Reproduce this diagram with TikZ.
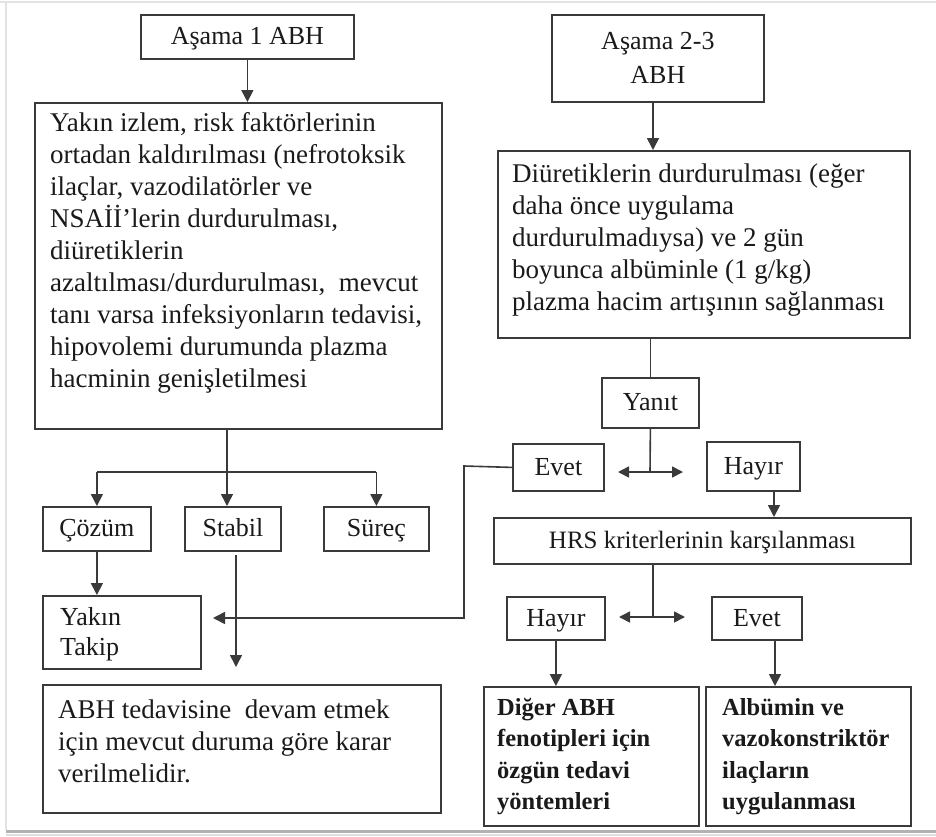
\documentclass[tikz,border=0pt]{standalone}
\usepackage{fontspec}
\setmainfont{Liberation Serif}
\usetikzlibrary{arrows.meta}
\definecolor{linec}{HTML}{3A3A3A}
\definecolor{txtc}{HTML}{1A1A1A}
\begin{document}
\begin{tikzpicture}[x=1pt,y=-1pt,
  box/.style={draw=linec, line width=1.8pt, inner sep=0pt, anchor=north west, text=txtc, font=\fontsize{26}{30}\selectfont},
  lbl/.style={box, text height=20pt, text depth=4pt},
  txt/.style={anchor=north west, inner sep=0pt, align=left, text=txtc, font=\fontsize{27}{32}\selectfont},
  btxt/.style={txt, font=\fontsize{24.5}{31.5}\selectfont\bfseries},
  conn/.style={draw=linec, line width=1.6pt},
  arr/.style={conn, -{Triangle[width=12pt,length=12pt]}},
  darr/.style={conn, {Triangle[width=11pt,length=11pt]}-{Triangle[width=11pt,length=11pt]}},
]
\path[use as bounding box, fill=white] (0,0) rectangle (936,836);
% frame
\draw[gray!22, line width=1.5pt] (0,2) -- (936,2);
\draw[gray!22, line width=1.5pt] (6,2) -- (6,830);
\draw[gray!60, line width=3pt] (6,831) -- (936,831);
\draw[gray!25, line width=2pt] (6,834.5) -- (936,834.5);

% boxes
\node[lbl, minimum width=213pt, minimum height=44pt] (a1) at (140,14) {Aşama 1 ABH};
\node[box, minimum width=212pt, minimum height=87pt, align=center, font=\fontsize{26}{34}\selectfont] (a23) at (551,14) {Aşama 2-3\\ABH};
\node[box, minimum width=407pt, minimum height=326pt] (L) at (34,102) {};
\node[txt] (Lt) at (50,108.6) {\strut Yakın izlem, risk faktörlerinin\\ortadan kaldırılması (nefrotoksik\\ilaçlar, vazodilatörler ve\\NSAİİ'lerin durdurulması,\\diüretiklerin\\azaltılması/durdurulması,\ \ mevcut\\tanı varsa infeksiyonların tedavisi,\\hipovolemi durumunda plazma\\hacminin genişletilmesi};
\node[box, minimum width=412pt, minimum height=187pt] (R) at (497,150) {};
\node[txt] (Rt) at (512,159.6) {\strut Diüretiklerin durdurulması (eğer\\daha önce uygulama\\durdurulmadıysa) ve 2 gün\\boyunca albüminle (1 g/kg)\\plazma hacim artışının sağlanması};
\node[lbl, minimum width=97pt, minimum height=50pt] (yanit) at (601,377) {Yanıt};
\node[lbl, minimum width=91pt, minimum height=47pt] (evet1) at (512,443) {Evet};
\node[lbl, minimum width=93pt, minimum height=49pt] (hayir1) at (706,441) {Hayır};
\node[lbl, minimum width=108pt, minimum height=44pt] (cozum) at (42,506) {Çözüm};
\node[lbl, minimum width=96pt, minimum height=44pt] (stabil) at (184,506) {Stabil};
\node[lbl, minimum width=105pt, minimum height=44pt] (surec) at (323,506) {Süreç};
\node[lbl, minimum width=417pt, minimum height=46pt, font=\fontsize{25}{30}\selectfont] (hrs) at (493,517) {HRS kriterlerinin karşılanması};
\node[box, minimum width=158pt, minimum height=73pt] (yakin) at (42,595) {};
\node[txt, font=\fontsize{26}{30}\selectfont] (yakint) at (60,604) {\strut Yakın\\Takip};
\node[lbl, minimum width=98pt, minimum height=43pt] (hayir2) at (506,596) {Hayır};
\node[lbl, minimum width=90pt, minimum height=43pt] (evet2) at (711,596) {Evet};
\node[box, minimum width=398pt, minimum height=128pt] (abh) at (42,684) {};
\node[txt] (abht) at (58,695.6) {\strut ABH tedavisine\ \ devam etmek\\için mevcut duruma göre karar\\verilmelidir.};
\node[box, minimum width=215pt, minimum height=139pt] (diger) at (483,686) {};
\node[btxt] (digert) at (497,692.95) {\strut Diğer ABH\\fenotipleri için\\özgün tedavi\\yöntemleri};
\node[box, minimum width=205pt, minimum height=139pt] (alb) at (705,686) {};
\node[btxt] (albt) at (722,692.95) {\strut Albümin ve\\vazokonstriktör\\ilaçların\\uygulanması};

% coordinates
\coordinate (a23s) at (653,101);
\coordinate (ys) at (650,472);
\coordinate (yl) at (618,472);
\coordinate (yr) at (683,472);
\coordinate (ecorner) at (464,466);
\coordinate (yk) at (213,618);
\coordinate (h1s) at (774,490);
\coordinate (hs) at (653,617);
\coordinate (hl) at (619,617);
\coordinate (hr) at (685,617);
\coordinate (e2s) at (775,639);
\coordinate (lsx) at (227,472);
\coordinate (st1) at (236,555);
\coordinate (st2) at (236,667);

% connectors
\draw[arr] (a1.south) -- (a1.south |- L.north);
\draw[arr] (a23s) -- (a23s |- R.north);
\draw[conn] (yanit.north |- R.south) -- (yanit.north);
\draw[conn] (yanit.south) -- (ys);
\draw[darr] (yl) -- (yr);
\draw[arr] (evet1.west) -- (ecorner) |- (yk);
\draw[arr] (h1s) -- (h1s |- hrs.north);
\draw[conn] (hs |- hrs.south) -- (hs);
\draw[darr] (hl) -- (hr);
\draw[arr] (hayir2.south) -- (hayir2.south |- diger.north);
\draw[arr] (e2s) -- (e2s |- alb.north);
\draw[arr] (lsx |- L.south) -- (lsx |- stabil.north);
\draw[conn] (cozum.north |- lsx) -- (surec.north |- lsx);
\draw[arr] (cozum.north |- lsx) -- (cozum.north);
\draw[arr] (surec.north |- lsx) -- (surec.north);
\draw[arr] (cozum.south) -- (cozum.south |- yakin.north);
\draw[arr] (st1) -- (st2);
\end{tikzpicture}
\end{document}
